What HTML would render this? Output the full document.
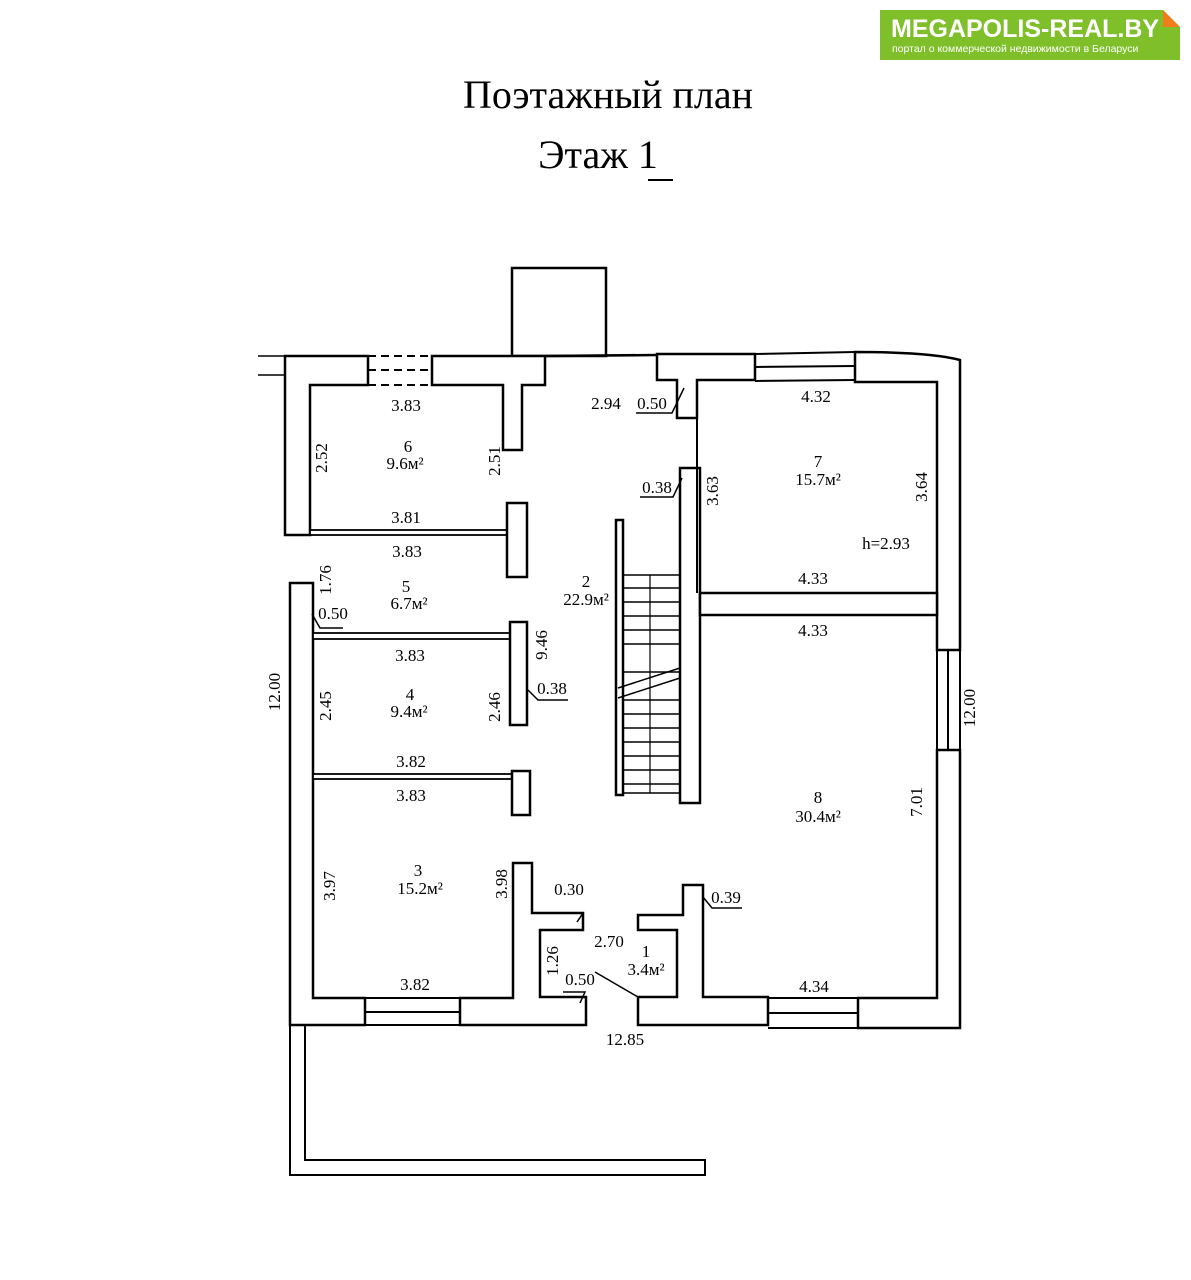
<!DOCTYPE html>
<html><head><meta charset="utf-8"><style>
html,body{margin:0;padding:0;background:#fff;}
svg{display:block}
text{font-family:"Liberation Serif",serif;fill:#000}
</style></head><body>
<svg width="1191" height="1280" viewBox="0 0 1191 1280" xmlns="http://www.w3.org/2000/svg">
<rect width="1191" height="1280" fill="#fff"/>
<!-- logo -->
<rect x="880" y="10" width="300" height="50" fill="#7fbf2a"/>
<polygon points="1163,10 1180,27 1180,10" fill="#fff"/>
<polygon points="1163,10 1180,27 1163,27" fill="#f07d1a"/>
<text x="891" y="37" style="font-family:'Liberation Sans',sans-serif;font-weight:bold;font-size:25px;fill:#fff">MEGAPOLIS-REAL.BY</text>
<text x="892" y="52" style="font-family:'Liberation Sans',sans-serif;font-size:10.5px;fill:#fff">портал о коммерческой недвижимости в Беларуси</text>
<!-- title -->
<text x="608" y="108" text-anchor="middle" font-size="40">Поэтажный план</text>
<text x="598" y="168" text-anchor="middle" font-size="40">Этаж 1</text>
<line x1="648" y1="180" x2="673" y2="180" stroke="#000" stroke-width="2"/>
<g fill="#fff" stroke="#000" stroke-width="2.5" stroke-linejoin="miter">
<rect x="512" y="268" width="94" height="88"/>
<line x1="545" y1="356" x2="657" y2="355"/>
<line x1="258" y1="356" x2="285" y2="356" stroke-width="1.5"/>
<line x1="258" y1="375" x2="285" y2="375" stroke-width="1.5"/>
<path d="M285,356 H368 V385 H310 V535 H285 Z"/>
<path d="M432,356 H545 V385 H522 V450 H503 V385 H432 Z"/>
<path d="M657,354 H755 V380 H697 V418 H677 V380 H657 Z"/>
<path d="M855,352 Q930,352 960,360 V650 H937 V382 H855 Z"/>
<path d="M937,750 H960 V1028 H858 V998 H937 Z"/>
<path d="M680,468 H700 V803 H680 Z"/>
<rect x="700" y="593" width="237" height="22"/>
<rect x="616" y="520" width="7" height="275"/>
<path d="M290,583 H313 V998 H365 V1025 H290 Z"/>
<rect x="310" y="530" width="197" height="5" stroke-width="1.8"/>
<rect x="507" y="503" width="20" height="74"/>
<rect x="313" y="633" width="197" height="6" stroke-width="1.8"/>
<rect x="510" y="622" width="17" height="103"/>
<rect x="313" y="774" width="199" height="5" stroke-width="1.8"/>
<rect x="512" y="771" width="18" height="44"/>
<path d="M513,863 H532 V913 H583 V930 H540 V997 H586 V1025 H460 V998 H513 Z"/>
<path d="M638,1025 V997 H677 V930 H638 V915 H683 V885 H703 V997 H768 V1025 Z"/>
</g>
<g stroke="#000" fill="none" stroke-width="2">
<line x1="697" y1="380" x2="697" y2="593"/>
<line x1="368" y1="356" x2="432" y2="356" stroke-dasharray="8,5"/>
<line x1="368" y1="370" x2="432" y2="370" stroke-dasharray="8,5"/>
<line x1="368" y1="385" x2="432" y2="385" stroke-dasharray="8,5"/>
<line x1="755" y1="354" x2="855" y2="352"/>
<line x1="755" y1="367" x2="855" y2="366"/>
<line x1="755" y1="381" x2="855" y2="380"/>
<line x1="937" y1="650" x2="937" y2="750"/>
<line x1="948" y1="650" x2="948" y2="750"/>
<line x1="960" y1="650" x2="960" y2="750"/>
<line x1="365" y1="998" x2="460" y2="998"/>
<line x1="365" y1="1012" x2="460" y2="1012"/>
<line x1="365" y1="1025" x2="460" y2="1025"/>
<line x1="768" y1="998" x2="858" y2="998"/>
<line x1="768" y1="1013" x2="858" y2="1013"/>
<line x1="768" y1="1028" x2="858" y2="1028"/>
<line x1="595" y1="972" x2="638" y2="997" stroke-width="1.5"/>
<path d="M290,1025 V1175 H705 V1160 H305 V1025"/>
<line x1="650" y1="575" x2="650" y2="793" stroke-width="1.2"/>
</g>
<g stroke="#000" stroke-width="1.5">
<line x1="623" y1="575" x2="680" y2="575"/><line x1="623" y1="588" x2="680" y2="588"/>
<line x1="623" y1="602" x2="680" y2="602"/><line x1="623" y1="616" x2="680" y2="616"/>
<line x1="623" y1="630" x2="680" y2="630"/><line x1="623" y1="644" x2="680" y2="644"/>
<line x1="623" y1="672" x2="680" y2="672"/>
<line x1="618" y1="688" x2="680" y2="668"/><line x1="618" y1="698" x2="680" y2="678"/>
<line x1="623" y1="700" x2="680" y2="700"/><line x1="623" y1="714" x2="680" y2="714"/>
<line x1="623" y1="728" x2="680" y2="728"/><line x1="623" y1="742" x2="680" y2="742"/>
<line x1="623" y1="756" x2="680" y2="756"/><line x1="623" y1="770" x2="680" y2="770"/>
<line x1="623" y1="784" x2="680" y2="784"/><line x1="623" y1="793" x2="680" y2="793"/>
<polyline points="636,413 672,413 684,388" fill="none"/>
<polyline points="640,497 673,497 682,478" fill="none"/>
<polyline points="343,628 320,628 312,614" fill="none"/>
<polyline points="568,700 538,700 528,690" fill="none"/>
<polyline points="555,913 583,913 577,922" fill="none"/>
<polyline points="563,992 585,992 580,1003" fill="none"/>
<polyline points="742,908 712,908 703,897" fill="none"/>
</g>
<g font-size="17">
<text x="406" y="411" text-anchor="middle">3.83</text>
<text x="606" y="409" text-anchor="middle">2.94</text>
<text x="652" y="409" text-anchor="middle">0.50</text>
<text x="816" y="402" text-anchor="middle">4.32</text>
<text x="408" y="452" text-anchor="middle">6</text>
<text x="405" y="469" text-anchor="middle">9.6м²</text>
<text x="818" y="467" text-anchor="middle">7</text>
<text x="818" y="485" text-anchor="middle">15.7м²</text>
<text x="657" y="493" text-anchor="middle">0.38</text>
<text x="406" y="523" text-anchor="middle">3.81</text>
<text x="407" y="557" text-anchor="middle">3.83</text>
<text x="886" y="549" text-anchor="middle">h=2.93</text>
<text x="813" y="584" text-anchor="middle">4.33</text>
<text x="406" y="592" text-anchor="middle">5</text>
<text x="409" y="609" text-anchor="middle">6.7м²</text>
<text x="586" y="587" text-anchor="middle">2</text>
<text x="586" y="605" text-anchor="middle">22.9м²</text>
<text x="333" y="619" text-anchor="middle">0.50</text>
<text x="813" y="636" text-anchor="middle">4.33</text>
<text x="410" y="661" text-anchor="middle">3.83</text>
<text x="410" y="700" text-anchor="middle">4</text>
<text x="409" y="717" text-anchor="middle">9.4м²</text>
<text x="552" y="694" text-anchor="middle">0.38</text>
<text x="411" y="767" text-anchor="middle">3.82</text>
<text x="411" y="801" text-anchor="middle">3.83</text>
<text x="818" y="803" text-anchor="middle">8</text>
<text x="818" y="822" text-anchor="middle">30.4м²</text>
<text x="418" y="876" text-anchor="middle">3</text>
<text x="420" y="894" text-anchor="middle">15.2м²</text>
<text x="569" y="895" text-anchor="middle">0.30</text>
<text x="726" y="903" text-anchor="middle">0.39</text>
<text x="609" y="947" text-anchor="middle">2.70</text>
<text x="646" y="957" text-anchor="middle">1</text>
<text x="646" y="975" text-anchor="middle">3.4м²</text>
<text x="580" y="985" text-anchor="middle">0.50</text>
<text x="415" y="990" text-anchor="middle">3.82</text>
<text x="814" y="992" text-anchor="middle">4.34</text>
<text x="625" y="1045" text-anchor="middle">12.85</text>
<text transform="translate(327,458) rotate(-90)" text-anchor="middle">2.52</text>
<text transform="translate(500,461) rotate(-90)" text-anchor="middle">2.51</text>
<text transform="translate(718,491) rotate(-90)" text-anchor="middle">3.63</text>
<text transform="translate(927,487) rotate(-90)" text-anchor="middle">3.64</text>
<text transform="translate(331,580) rotate(-90)" text-anchor="middle">1.76</text>
<text transform="translate(547,645) rotate(-90)" text-anchor="middle">9.46</text>
<text transform="translate(280,692) rotate(-90)" text-anchor="middle">12.00</text>
<text transform="translate(331,706) rotate(-90)" text-anchor="middle">2.45</text>
<text transform="translate(500,707) rotate(-90)" text-anchor="middle">2.46</text>
<text transform="translate(922,802) rotate(-90)" text-anchor="middle">7.01</text>
<text transform="translate(335,886) rotate(-90)" text-anchor="middle">3.97</text>
<text transform="translate(507,884) rotate(-90)" text-anchor="middle">3.98</text>
<text transform="translate(558,961) rotate(-90)" text-anchor="middle">1.26</text>
<text transform="translate(975,708) rotate(-90)" text-anchor="middle">12.00</text>
</g>
</svg>
</body></html>
